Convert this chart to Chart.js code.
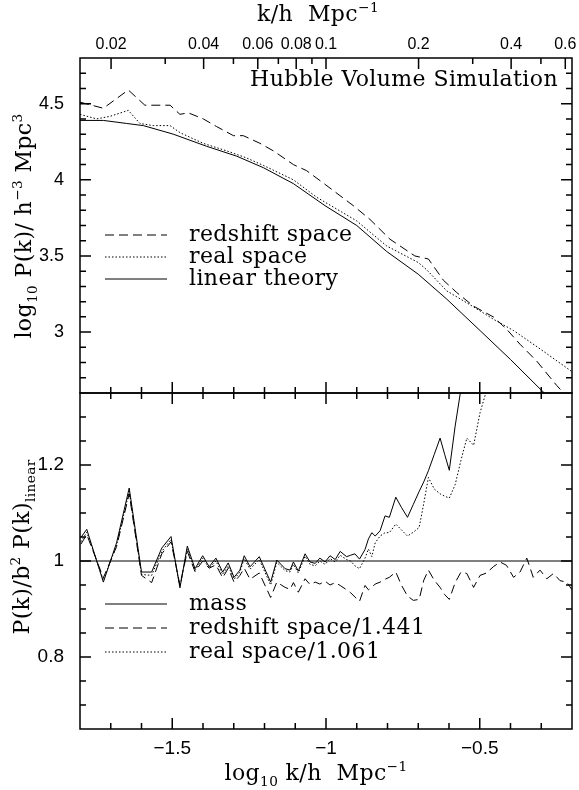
<!DOCTYPE html>
<html>
<head>
<meta charset="utf-8">
<script src="https://cdn.jsdelivr.net/npm/chart.js@4.4.1/dist/chart.umd.min.js"></script>
<style>
    html, body { margin: 0; padding: 0; background: #fff; }
    #lienzo { position: relative; width: 579px; height: 790px; }
    canvas { position: absolute; left: 0; }
    #graficoSup { top: 0; }
    #graficoInf { top: 392px; }
</style>
</head>
<body>
<div id="lienzo">
    <canvas id="graficoSup" width="579" height="394"></canvas>
    <canvas id="graficoInf" width="579" height="398"></canvas>
</div>
<script>
// Rango del eje x (log10 k) que comparten los dos paneles
const logkMin = -1.8;
const logkMax = -0.2;

// Panel superior: log10 P(k) en espacio de redshift
const logkZ = [-1.8, -1.724, -1.643, -1.589, -1.507, -1.475, -1.448, -1.399, -1.356, -1.301, -1.269, -1.215, -1.171, -1.106, -1.063,
               -1.003, -0.911, -0.857, -0.792, -0.711, -0.667, -0.618, -0.575, -0.52, -0.456, -0.413, -0.369, -0.315, -0.25, -0.2];
const pkZ   = [4.51, 4.47, 4.59, 4.49, 4.49, 4.43, 4.44, 4.40, 4.35, 4.29, 4.29, 4.24, 4.19, 4.10, 4.06,
               3.97, 3.83, 3.74, 3.61, 3.50, 3.48, 3.34, 3.26, 3.17, 3.10, 3.02, 2.92, 2.81, 2.65, 2.54];

// Panel superior: espacio real
const logkReal = [-1.8, -1.746, -1.702, -1.643, -1.605, -1.562, -1.507, -1.475, -1.40, -1.323, -1.26, -1.204, -1.106, -1.03, -0.95,
                  -0.90, -0.803, -0.70, -0.673, -0.607, -0.532, -0.456, -0.39, -0.304, -0.2];
const pkReal   = [4.43, 4.40, 4.417, 4.456, 4.37, 4.356, 4.356, 4.31, 4.24, 4.19, 4.145, 4.095, 4.00, 3.885, 3.79,
                  3.73, 3.566, 3.457, 3.41, 3.27, 3.18, 3.085, 3.01, 2.89, 2.74];

// Panel superior: teoría lineal
const logkLin = [-1.8, -1.724, -1.648, -1.594, -1.497, -1.388, -1.29, -1.204, -1.106, -1.003, -0.90, -0.803, -0.70, -0.607, -0.499, -0.40, -0.304, -0.2];
const pkLin   = [4.39, 4.39, 4.37, 4.356, 4.30, 4.22, 4.155, 4.08, 3.975, 3.83, 3.70, 3.53, 3.38, 3.216, 3.01, 2.82, 2.627, 2.43];

// Panel inferior: bins de log10 k compartidos por las tres razones
const logkInf = [-1.797, -1.778, -1.724, -1.681, -1.64, -1.6, -1.567, -1.534, -1.504, -1.475, -1.451, -1.426, -1.401, -1.38, -1.358,
                 -1.336, -1.318, -1.299, -1.28, -1.266, -1.247, -1.217, -1.18, -1.16, -1.133, -1.117, -1.106, -1.09, -1.068, -1.052,
                 -1.035, -1.02, -1.003, -0.987, -0.97, -0.954, -0.933, -0.92, -0.906, -0.891, -0.873, -0.862, -0.851, -0.84, -0.824,
                 -0.808, -0.794, -0.773, -0.755, -0.735, -0.716, -0.697, -0.682, -0.667, -0.648, -0.629, -0.614, -0.599, -0.58, -0.561,
                 -0.542, -0.52, -0.499, -0.478, -0.456, -0.434, -0.413, -0.39, -0.369, -0.347, -0.326, -0.304, -0.282, -0.26, -0.239,
                 -0.217, -0.2];

// Masa / teoría lineal (sale por arriba del panel cerca de k = 0.27)
const masaRel = [1.049, 1.066, 0.956, 1.038, 1.152, 0.977, 0.977, 1.027, 1.051, 0.944, 1.031, 0.984, 1.011, 0.988, 1.006,
                 0.977, 0.996, 0.966, 0.981, 1.011, 0.988, 1.009, 0.956, 1.002, 0.984, 0.981, 0.998, 0.979, 1.015, 0.998,
                 0.995, 1.006, 0.998, 1.011, 1.003, 1.02, 1.009, 1.012, 1.015, 1.004, 1.024, 1.046, 1.059, 1.052, 1.063,
                 1.094, 1.091, 1.133, 1.112, 1.091, 1.118, 1.145, 1.165, 1.188, 1.222, 1.256, 1.222, 1.189, 1.281, 1.359,
                 1.45, null, null, null, null, null, null, null, null, null, null, null, null, null, null,
                 null, null];

// Espacio de redshift / 1.441
const zRel = [1.035, 1.055, 0.965, 1.03, 1.14, 0.97, 0.955, 1.015, 1.04, 0.95, 1.02, 0.978, 1.0, 0.985, 0.992,
              0.965, 0.985, 0.956, 0.97, 0.985, 0.962, 0.975, 0.924, 0.956, 0.945, 0.941, 0.955, 0.935, 0.963, 0.951,
              0.956, 0.952, 0.958, 0.95, 0.955, 0.949, 0.94, 0.934, 0.925, 0.916, 0.949, 0.94, 0.945, 0.952, 0.956,
              0.962, 0.966, 0.977, 0.95, 0.927, 0.918, 0.92, 0.96, 0.981, 0.96, 0.945, 0.93, 0.92, 0.955, 0.977,
              0.974, 0.945, 0.97, 0.975, 0.988, 0.998, 0.991, 0.966, 0.977, 1.006, 0.966, 0.981, 0.963, 0.974, 0.959,
              0.956, 0.94];

// Espacio real / 1.061
const realRel = [1.04, 1.06, 0.96, 1.033, 1.145, 0.972, 0.97, 1.02, 1.045, 0.947, 1.025, 0.98, 1.006, 0.985, 1.0,
                 0.972, 0.99, 0.962, 0.977, 1.005, 0.983, 1.003, 0.95, 0.997, 0.98, 0.977, 0.993, 0.975, 1.01, 0.993,
                 0.99, 1.0, 0.993, 1.005, 0.998, 1.012, 1.003, 1.0, 0.99, 0.984, 1.006, 1.025, 1.009, 1.038, 1.052,
                 1.059, 1.059, 1.077, 1.065, 1.052, 1.06, 1.07, 1.12, 1.174, 1.15, 1.14, 1.135, 1.131, 1.159, 1.21,
                 1.256, 1.241, 1.309, 1.355, 1.45, null, null, null, null, null, null, null, null, null, null,
                 null, null];

// Marcas y etiquetas de los ejes
const kEtiquetas = [0.02, 0.04, 0.06, 0.08, 0.1, 0.2, 0.4, 0.6];
const kMenores = [0.03, 0.05, 0.07, 0.09, 0.3, 0.5];
const xMarcas = [-1.5, -1, -0.5];
const ySupMarcas = [3, 3.5, 4, 4.5];
const yInfMarcas = [0.8, 1, 1.2];

// Genera una lista de posiciones para las marcas menores
function pasos(desde, hasta, paso) {
    const r = [];
    for (let v = desde; v <= hasta + 1e-9; v += paso) r.push(Math.round(v * 1000) / 1000);
    return r;
}

// Une un array de x y uno de y en puntos {x, y}
function puntos(xs, ys) {
    return xs.map((x, i) => ({ x: x, y: ys[i] }));
}

const SANS = '"Liberation Sans", Arial, Helvetica, sans-serif';
function serif(t) { return t + 'px "DejaVu Serif", "Liberation Serif", serif'; }

// Dibuja un texto con partes normales, subíndices y superíndices
function dibujarPartes(ctx, partes, x, y, tam, alinear) {
    ctx.letterSpacing = '0.4px';
    const ancho = p => { ctx.font = serif(p[1] === 'n' ? tam : tam * 0.62); return ctx.measureText(p[0]).width; };
    const total = partes.reduce((s, p) => s + ancho(p), 0);
    let cx = alinear === 'center' ? x - total / 2 : alinear === 'right' ? x - total : x;
    ctx.textAlign = 'left';
    ctx.textBaseline = 'alphabetic';
    partes.forEach(p => {
        const w = ancho(p);
        const dy = p[1] === 'sub' ? tam * 0.28 : p[1] === 'sup' ? -tam * 0.42 : 0;
        ctx.fillText(p[0], cx, y + dy);
        cx += w;
    });
    ctx.letterSpacing = '0px';
}

// Marcas de cada panel (mayores y menores) por lado, según el id del canvas
const xMenores = pasos(-1.7, -0.3, 0.1);
const marcasMarco = {
    graficoSup: {
        arriba: [kEtiquetas.map(Math.log10), kMenores.map(Math.log10)],
        abajo:  [xMarcas, xMenores],
        lados:  [ySupMarcas, pasos(2.7, 4.7, 0.1)]
    },
    graficoInf: {
        arriba: [xMarcas, xMenores],
        abajo:  [xMarcas, xMenores],
        lados:  [yInfMarcas, pasos(0.7, 1.3, 0.05)]
    }
};

// Plugin: marco del panel y marcas hacia adentro en los cuatro lados
const marcoPlugin = {
    id: 'marco',
    afterDraw(chart) {
        const m = marcasMarco[chart.canvas.id];
        const ctx = chart.ctx;
        const a = chart.chartArea;
        const ex = chart.scales.x, ey = chart.scales.y;
        ctx.save();
        ctx.setLineDash([]);
        ctx.strokeStyle = '#000';
        ctx.lineWidth = 1.5;
        ctx.strokeRect(a.left, a.top, a.right - a.left, a.bottom - a.top);
        ctx.beginPath();
        const horiz = (lista, largo, yBorde, dir) => {
            for (const v of lista) {
                const px = ex.getPixelForValue(v);
                if (px <= a.left + 1 || px >= a.right - 1) continue;
                ctx.moveTo(px, yBorde);
                ctx.lineTo(px, yBorde + dir * largo);
            }
        };
        const vert = (lista, largo) => {
            for (const v of lista) {
                const py = ey.getPixelForValue(v);
                if (py <= a.top + 1 || py >= a.bottom - 1) continue;
                ctx.moveTo(a.left, py); ctx.lineTo(a.left + largo, py);
                ctx.moveTo(a.right, py); ctx.lineTo(a.right - largo, py);
            }
        };
        horiz(m.arriba[0], 11, a.top, 1);
        horiz(m.arriba[1], 6, a.top, 1);
        horiz(m.abajo[0], 11, a.bottom, -1);
        horiz(m.abajo[1], 6, a.bottom, -1);
        vert(m.lados[0], 11);
        vert(m.lados[1], 6);
        ctx.stroke();
        ctx.restore();
    }
};

// Plugin: títulos de los ejes, anotación y leyenda dentro del panel
const textosPlugin = {
    id: 'textos',
    afterDraw(chart, args, op) {
        const ctx = chart.ctx;
        ctx.save();
        ctx.fillStyle = '#000';
        (op.textos || []).forEach(t => {
            ctx.save();
            ctx.translate(t.x, t.y);
            if (t.rot) ctx.rotate(-Math.PI / 2);
            dibujarPartes(ctx, t.partes, 0, 0, t.tam, t.alinear);
            ctx.restore();
        });
        (op.leyenda || []).forEach(e => {
            ctx.beginPath();
            ctx.setLineDash(e.guiones);
            ctx.lineWidth = 1;
            ctx.strokeStyle = '#000';
            ctx.moveTo(105, e.y);
            ctx.lineTo(167, e.y);
            ctx.stroke();
            ctx.setLineDash([]);
            dibujarPartes(ctx, [[e.texto, 'n']], 189, e.y + 6, 22, 'left');
        });
        ctx.restore();
    }
};

const GUION = [9, 5];
const PUNTO = [1.5, 2];
const estilo = { borderColor: '#000', borderWidth: 1, pointRadius: 0, fill: false, tension: 0, xAxisID: 'x', yAxisID: 'y' };

// Quita el margen extra que Chart.js reserva para media etiqueta en los extremos
function sinRelleno(s) {
    s.paddingLeft = 0; s.paddingRight = 0; s.paddingTop = 0; s.paddingBottom = 0;
}

// Opciones comunes de las escalas (sin rejilla ni borde, el marco lo pone el plugin)
function escalaBase(extra) {
    return Object.assign({ type: 'linear', grid: { display: false }, border: { display: false } }, extra);
}

// Panel superior
new Chart(document.getElementById('graficoSup'), {
    type: 'line',
    data: {
        datasets: [
            { ...estilo, data: puntos(logkZ, pkZ), borderDash: GUION },
            { ...estilo, data: puntos(logkReal, pkReal), borderDash: PUNTO },
            { ...estilo, data: puntos(logkLin, pkLin) }
        ]
    },
    options: {
        responsive: false,
        animation: false,
        devicePixelRatio: 1,
        layout: { padding: { left: 0, right: 7, top: 0, bottom: 1 } },
        plugins: {
            legend: { display: false },
            tooltip: { enabled: false },
            textos: {
                textos: [
                    { partes: [['k/h  Mpc', 'n'], ['−1', 'sup']], x: 318, y: 21, tam: 22, alinear: 'center' },
                    { partes: [['Hubble Volume Simulation', 'n']], x: 558, y: 86, tam: 22, alinear: 'right' },
                    { partes: [['log', 'n'], ['10', 'sub'], [' P(k)/ h', 'n'], ['−3', 'sup'], [' Mpc', 'n'], ['3', 'sup']],
                      x: 31, y: 226, tam: 22, alinear: 'center', rot: true }
                ],
                leyenda: [
                    { texto: 'redshift space', y: 235, guiones: GUION },
                    { texto: 'real space', y: 257, guiones: PUNTO },
                    { texto: 'linear theory', y: 279, guiones: [] }
                ]
            }
        },
        scales: {
            x: escalaBase({ min: logkMin, max: logkMax, display: false }),
            xSup: escalaBase({
                axis: 'x', position: 'top', min: logkMin, max: logkMax,
                afterBuildTicks: s => { s.ticks = kEtiquetas.map(k => ({ value: Math.log10(k) })); },
                ticks: { autoSkip: false, maxRotation: 0, minRotation: 0, padding: -4, color: '#000',
                         font: { family: SANS, size: 16 }, callback: (v, i) => String(kEtiquetas[i]) },
                afterFit: s => { sinRelleno(s); s.height = 58; }
            }),
            y: escalaBase({
                min: 2.6, max: 4.8,
                afterBuildTicks: s => { s.ticks = ySupMarcas.map(v => ({ value: v })); },
                ticks: { padding: 8, color: '#000', font: { family: SANS, size: 18 }, callback: v => String(v) },
                afterFit: s => { sinRelleno(s); s.width = 80; }
            })
        }
    },
    plugins: [marcoPlugin, textosPlugin]
});

// Panel inferior
new Chart(document.getElementById('graficoInf'), {
    type: 'line',
    data: {
        datasets: [
            { ...estilo, data: [{ x: logkMin, y: 1 }, { x: logkMax, y: 1 }] },
            { ...estilo, data: puntos(logkInf, zRel), borderDash: GUION },
            { ...estilo, data: puntos(logkInf, realRel), borderDash: PUNTO },
            { ...estilo, data: puntos(logkInf, masaRel) }
        ]
    },
    options: {
        responsive: false,
        animation: false,
        devicePixelRatio: 1,
        layout: { padding: { left: 0, right: 7, top: 1, bottom: 0 } },
        plugins: {
            legend: { display: false },
            tooltip: { enabled: false },
            textos: {
                textos: [
                    { partes: [['P(k)/b', 'n'], ['2', 'sup'], [' P(k)', 'n'], ['linear', 'sub']],
                      x: 29, y: 155, tam: 22, alinear: 'center', rot: true },
                    { partes: [['log', 'n'], ['10', 'sub'], [' k/h  Mpc', 'n'], ['−1', 'sup']],
                      x: 316, y: 388, tam: 22, alinear: 'center' }
                ],
                leyenda: [
                    { texto: 'mass', y: 212, guiones: [] },
                    { texto: 'redshift space/1.441', y: 236, guiones: GUION },
                    { texto: 'real space/1.061', y: 260, guiones: PUNTO }
                ]
            }
        },
        scales: {
            x: escalaBase({
                min: logkMin, max: logkMax, position: 'bottom',
                afterBuildTicks: s => { s.ticks = xMarcas.map(v => ({ value: v })); },
                ticks: { autoSkip: false, maxRotation: 0, minRotation: 0, padding: 0, color: '#000',
                         font: { family: SANS, size: 19 }, callback: v => (v < 0 ? '−' : '') + Math.abs(v) },
                afterFit: s => { sinRelleno(s); s.height = 61; }
            }),
            y: escalaBase({
                min: 0.65, max: 1.35,
                afterBuildTicks: s => { s.ticks = yInfMarcas.map(v => ({ value: v })); },
                ticks: { padding: 8, color: '#000', font: { family: SANS, size: 19 }, callback: v => String(v) },
                afterFit: s => { sinRelleno(s); s.width = 80; }
            })
        }
    },
    plugins: [marcoPlugin, textosPlugin]
});
</script>
</body>
</html>
